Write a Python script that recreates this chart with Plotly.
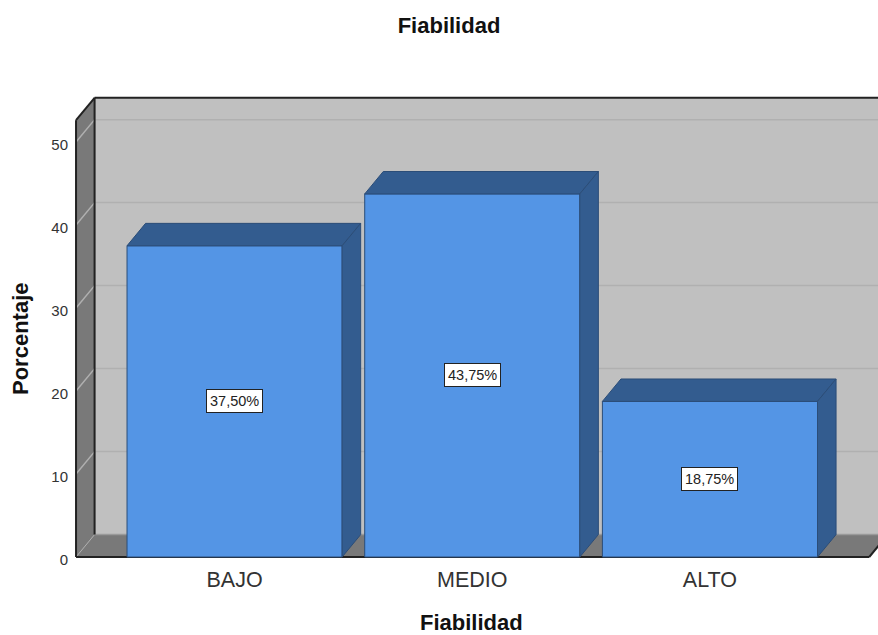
import plotly.graph_objects as go

# Data
categories = ["BAJO", "MEDIO", "ALTO"]
percentages = [37.50, 43.75, 18.75]
value_labels = ["37,50%", "43,75%", "18,75%"]
y_ticks = [0, 10, 20, 30, 40, 50]

# Colours
FRONT = "#5495e5"
SHADE = "#335c8f"
EDGE = "#2b4d78"
WALL = "#797979"
BACK = "#c0c0c0"
GRID = "#b0b0b0"
FRAME = "#222222"
TEXT = "#222222"

# Page size and plot margins, in pixels
WIDTH, HEIGHT = 878, 635
M_LEFT, M_RIGHT, M_TOP, M_BOTTOM = 72, 0, 90, 75

# Chart geometry
BAR_WIDTH = 0.905
DEPTH_X = 0.078   # depth of the box, in category units
DEPTH_Y = 2.7     # depth of the box, in percent units
X_LEFT = -0.667   # front-left corner of the box
X_RIGHT = 2.67    # front-right corner of the floor
Y_TOP = 52.63     # front-top corner of the left wall
X_MIN, X_MAX = -0.684, 2.707
Y_MIN, Y_MAX = -0.36, 56.27


def polygon(points, fill, line=None, width=1, layer="below"):
    path = "M " + " L ".join(f"{x},{y}" for x, y in points) + " Z"
    return dict(type="path", path=path, xref="x", yref="y", layer=layer,
                fillcolor=fill, line=dict(color=line or fill, width=width))


def segment(x0, y0, x1, y1, color, width=1):
    return dict(type="line", x0=x0, y0=y0, x1=x1, y1=y1, xref="x", yref="y",
                layer="below", line=dict(color=color, width=width))


def paper_x(px):
    # Paper coordinates span the plot area, so convert from page pixels
    return (px - M_LEFT) / (WIDTH - M_LEFT - M_RIGHT)


def paper_y(px):
    return (HEIGHT - M_BOTTOM - px) / (HEIGHT - M_TOP - M_BOTTOM)


bx, by = X_LEFT + DEPTH_X, DEPTH_Y
shapes = [
    # Back wall, left wall and floor of the box
    polygon([(bx, by), (X_MAX + 1, by), (X_MAX + 1, Y_TOP + by), (bx, Y_TOP + by)], BACK),
    polygon([(X_LEFT, 0), (bx, by), (bx, Y_TOP + by), (X_LEFT, Y_TOP)], WALL),
    polygon([(X_LEFT, 0), (X_RIGHT, 0), (X_RIGHT + DEPTH_X, by), (bx, by)], WALL),
]
# Gridlines run along the back wall and down the left wall
for t in y_ticks[1:]:
    shapes.append(segment(bx, t + by, X_MAX + 1, t + by, GRID, 1.5))
    shapes.append(segment(X_LEFT, t, bx, t + by, GRID, 1.5))
shapes.append(segment(X_LEFT, 0, bx, by, GRID, 1))
shapes.append(segment(bx, by, X_MAX + 1, by, "#9a9a9a", 1.5))
# Box outline
shapes += [
    segment(X_LEFT, 0, X_LEFT, Y_TOP, FRAME, 2),
    segment(bx, by, bx, Y_TOP + by, FRAME, 2),
    segment(X_LEFT, Y_TOP, bx, Y_TOP + by, FRAME, 2),
    segment(bx, Y_TOP + by, X_MAX + 1, Y_TOP + by, FRAME, 2),
    segment(X_LEFT, 0, X_RIGHT, 0, FRAME, 2),
    segment(X_RIGHT, 0, X_RIGHT + DEPTH_X, by, FRAME, 2),
]

fig = go.Figure()

fig.add_bar(
    x=list(range(len(categories))),
    y=percentages,
    width=BAR_WIDTH,
    marker=dict(color=FRONT, line=dict(color=EDGE, width=1)),
    hoverinfo="skip",
    showlegend=False,
)

# Top and side faces follow each bar's value
for i, v in enumerate(percentages):
    x0, x1 = i - BAR_WIDTH / 2, i + BAR_WIDTH / 2
    for xs, ys in (
        ([x0, x1, x1 + DEPTH_X, x0 + DEPTH_X, x0], [v, v, v + DEPTH_Y, v + DEPTH_Y, v]),
        ([x1, x1 + DEPTH_X, x1 + DEPTH_X, x1, x1], [0, DEPTH_Y, v + DEPTH_Y, v, 0]),
    ):
        fig.add_scatter(
            x=xs, y=ys, mode="lines", fill="toself", fillcolor=SHADE,
            line=dict(color=EDGE, width=1), hoverinfo="skip", showlegend=False,
        )

annotations = [
    dict(x=i, y=v / 2, xref="x", yref="y", text=label, showarrow=False,
         bgcolor="white", bordercolor=FRAME, borderwidth=1, borderpad=3,
         font=dict(family="Liberation Sans", size=14.5, color=TEXT))
    for i, (v, label) in enumerate(zip(percentages, value_labels))
]
# Axis titles
annotations += [
    dict(x=paper_x(471), y=paper_y(622), xref="paper", yref="paper",
         xanchor="center", yanchor="middle", text="<b>Fiabilidad</b>",
         showarrow=False, font=dict(size=22, color="#111111")),
    dict(x=paper_x(20), y=paper_y(339), xref="paper", yref="paper",
         xanchor="center", yanchor="middle", textangle=-90, text="<b>Porcentaje</b>",
         showarrow=False, font=dict(size=22, color="#111111")),
]

fig.update_layout(
    width=WIDTH,
    height=HEIGHT,
    margin=dict(l=M_LEFT, r=M_RIGHT, t=M_TOP, b=M_BOTTOM, autoexpand=False),
    paper_bgcolor="white",
    plot_bgcolor="white",
    font=dict(family="Liberation Sans", color=TEXT),
    title=dict(text="<b>Fiabilidad</b>", x=449 / WIDTH, xanchor="center",
               y=1 - 25 / HEIGHT, yanchor="middle",
               font=dict(size=22, color="#111111")),
    shapes=shapes,
    annotations=annotations,
    xaxis=dict(
        range=[X_MIN, X_MAX], tickvals=list(range(len(categories))),
        ticktext=categories, showgrid=False, zeroline=False, showline=False,
        ticks="", tickfont=dict(size=21.5, color="#333333"), ticklabelstandoff=4,
    ),
    yaxis=dict(
        range=[Y_MIN, Y_MAX], tickvals=y_ticks, showgrid=False, zeroline=False,
        showline=False, ticks="", tickfont=dict(size=15, color="#333333"),
        ticklabelstandoff=3, ticklabelshift=3,
    ),
)

fig.write_html("out.html", config=dict(displayModeBar=False))
